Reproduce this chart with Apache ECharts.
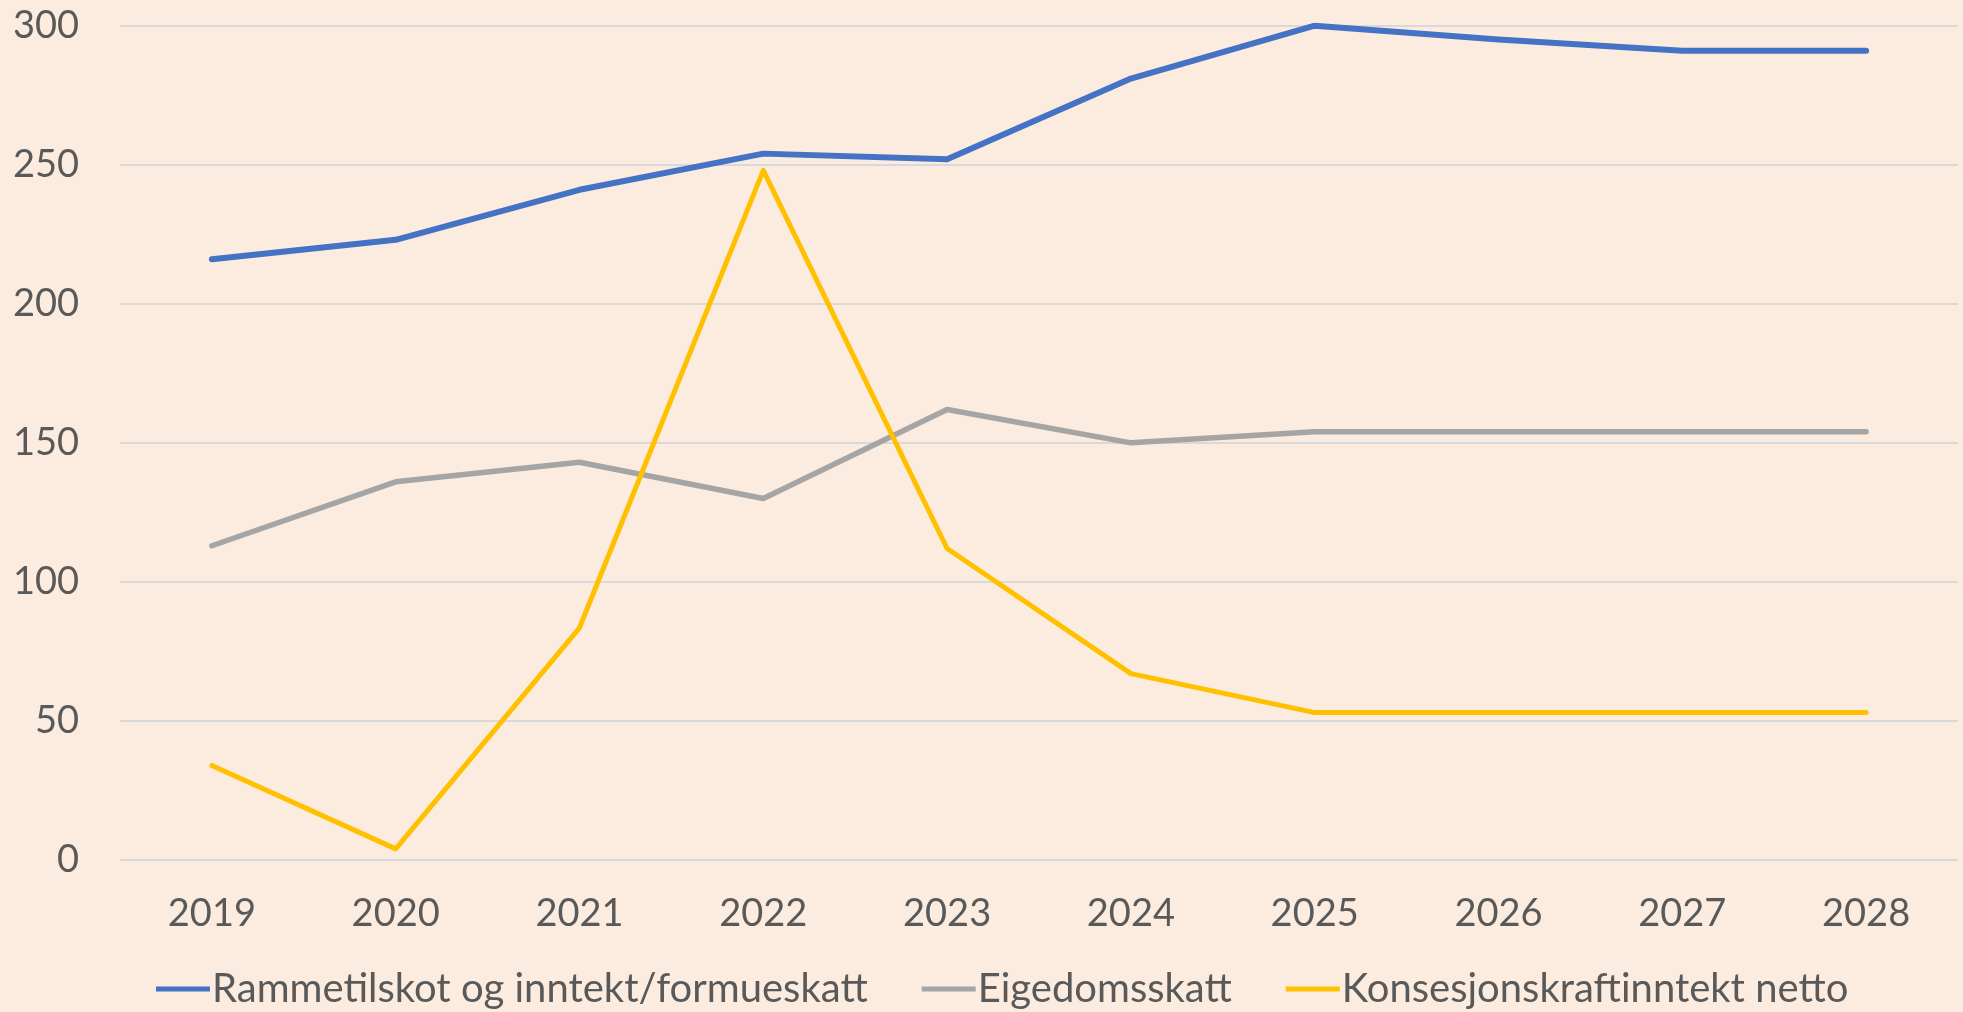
<!DOCTYPE html>
<html>
<head>
    <meta charset="utf-8">
    <title>ECharts</title>
    <script src="https://cdn.jsdelivr.net/npm/echarts@6/dist/echarts.min.js"></script>
    <style type="text/css">
        * {
            margin: 0;
            padding: 0;
        }
        body { background: #FBECDF; }
    </style>
</head>
<body>
<div id="main" style="width: 1963px; height: 1012px;"></div>
<script type="text/javascript">
    var years = ['2019', '2020', '2021', '2022', '2023', '2024', '2025', '2026', '2027', '2028'];
    var rammetilskot = [216, 223, 241, 254, 252, 281, 300, 295, 291, 291];
    var eigedomsskatt = [113, 136, 143, 130, 162, 150, 154, 154, 154, 154];
    var konsesjonskraft = [34, 4, 83.5, 248, 112, 67, 53, 53, 53, 53];
    var seriesNames = ['Rammetilskot og inntekt/formueskatt', 'Eigedomsskatt', 'Konsesjonskraftinntekt netto'];
    var colors = ['#4472C4', '#A5A5A5', '#FFC000'];

    var myChart = echarts.init(document.getElementById('main'));

    var font = 'Lato, "Open Sans", sans-serif';

    function line(name, data, w) {
        return {
            name: name,
            type: 'line',
            data: data,
            symbol: 'none',
            lineStyle: { width: w, cap: 'round', join: 'round' },
            emphasis: { disabled: true }
        };
    }

    var option = {
        backgroundColor: '#FBECDF',
        color: colors,
        animation: false,
        grid: { left: 120, right: 5, top: 25.7, bottom: 152, containLabel: false },
        legend: {
            left: 151,
            top: 964,
            itemWidth: 54,
            itemHeight: 5,
            itemGap: 54,
            icon: 'rect',
            textStyle: { fontFamily: font, fontSize: 40, color: '#595959', padding: [0, 0, 0, -3] },
            data: seriesNames
        },
        xAxis: {
            type: 'category',
            data: years,
            boundaryGap: true,
            axisLine: { show: false },
            axisTick: { show: false },
            axisLabel: { fontFamily: font, fontSize: 38, color: '#595959', margin: 35 }
        },
        yAxis: {
            type: 'value',
            min: 0,
            max: 300,
            interval: 50,
            axisLine: { show: false },
            axisTick: { show: false },
            axisLabel: { fontFamily: font, fontSize: 38, color: '#595959', margin: 41 },
            splitLine: { lineStyle: { color: '#D9D9D9', width: 2 } }
        },
        series: [
            line(seriesNames[0], rammetilskot, 6),
            line(seriesNames[1], eigedomsskatt, 5.5),
            line(seriesNames[2], konsesjonskraft, 5)
        ]
    };

    myChart.setOption(option);

    window.addEventListener('resize', function () {
        myChart.resize();
    });
</script>
</body>
</html>
